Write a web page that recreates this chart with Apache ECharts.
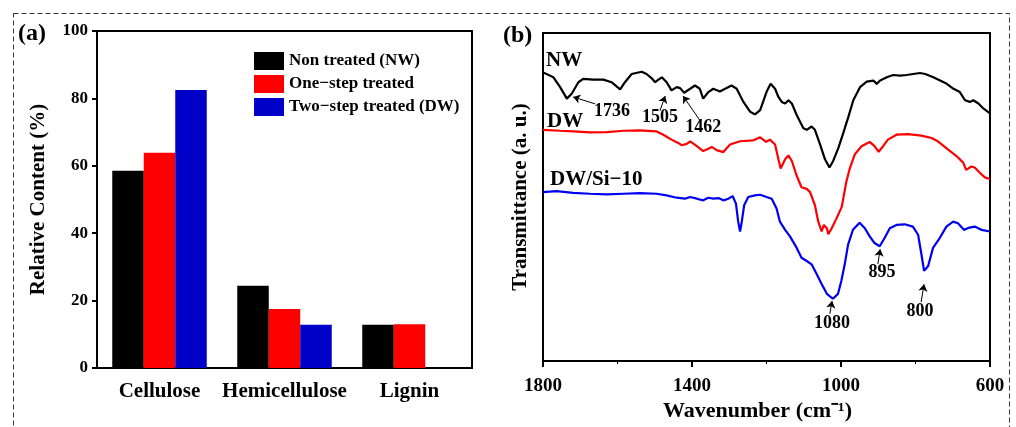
<!DOCTYPE html>
<html>
<head>
<meta charset="utf-8">
<script src="https://cdn.jsdelivr.net/npm/echarts@6/dist/echarts.min.js"></script>
<style>
  html, body { margin: 0; padding: 0; background: #fff; }
  #charts { width: 1016px; height: 427px; }
</style>
</head>
<body>
<div id="charts"></div>
<script>
// (a) relative content of the three components
var categories = ['Cellulose', 'Hemicellulose', 'Lignin'];
var nonTreated = [58.5, 24.4, 12.8];
var oneStep = [63.9, 17.5, 13.0];
var twoStep = [82.5, 12.8, null];
var barNames = ['Non treated (NW)', 'One\u2212step treated', 'Two\u2212step treated (DW)'];

// (b) FTIR spectra, [wavenumber, transmittance a.u.]
var nwSpectrum = [[1800,88],[1772,86.5],[1754,83.5],[1736,80],[1723,81.5],[1705,85],[1692,86],[1665,85.8],[1638,85.8],[1616,85],[1593,82.8],[1580,85],[1562,87.5],[1535,88.2],[1522,87.5],[1508,86.2],[1499,85],[1490,85.8],[1481,86.5],[1468,85],[1455,82.5],[1441,83.5],[1432,83.2],[1421,81.8],[1405,83],[1392,84],[1379,83],[1370,80],[1356,82],[1343,83],[1325,82.2],[1311,83],[1294,84],[1280,83],[1262,79],[1244,76],[1231,75.2],[1217,76.5],[1200,82],[1189,84.5],[1177,83],[1168,80.5],[1159,79],[1150,78.5],[1141,79.5],[1132,78.5],[1119,75],[1101,71],[1092,70.5],[1079,71.5],[1070,70.5],[1056,66],[1043,61.5],[1031,59],[1021,61],[1007,65],[994,69.5],[980,74.5],[967,79.5],[949,83.5],[931,85.2],[913,85.5],[904,84.5],[895,85.5],[877,86.5],[860,87.2],[842,87],[824,87.2],[806,87.5],[788,87.8],[774,87.5],[752,86.5],[734,85.5],[716,84.5],[698,83],[681,82],[667,79.5],[654,79],[645,79.5],[631,78.5],[618,77],[600,75.5]];
var dwSpectrum = [[1800,70.5],[1754,70.2],[1719,70],[1674,69.7],[1629,69.8],[1584,70.2],[1540,70.3],[1495,70],[1477,69],[1455,67.5],[1437,66.5],[1428,65.8],[1414,66.2],[1405,67],[1387,65.5],[1370,64],[1356,64.7],[1347,65.3],[1334,64.3],[1316,63.7],[1298,66],[1271,67],[1235,67.3],[1217,68.2],[1201,66.8],[1191,67.5],[1177,66],[1168,61.5],[1162,58.7],[1150,61.5],[1141,62.7],[1132,61],[1119,56.5],[1106,53],[1092,52.5],[1083,51.5],[1070,47.5],[1061,42.5],[1052,39.5],[1046,41.5],[1038,40.5],[1034,38.7],[1025,40.5],[1012,43.5],[998,47],[986,54.5],[977,58.5],[963,63],[945,65.5],[923,66.8],[910,65.5],[899,63.8],[887,65.5],[874,67.5],[851,69],[820,69.2],[784,68.7],[757,68],[740,67],[713,64.5],[690,62.5],[672,60.5],[664,58.3],[650,59.3],[641,59],[628,57.5],[614,56],[600,55.5]];
var dwSiSpectrum = [[1800,51.5],[1764,51.8],[1719,51.3],[1674,51],[1629,50.8],[1584,51],[1540,51.2],[1495,51],[1468,50.5],[1441,49.8],[1419,49.5],[1405,50],[1387,49.5],[1370,49],[1356,49.8],[1343,49.5],[1329,49.7],[1316,49],[1302,49.5],[1291,50.3],[1282,48],[1276,42.5],[1271,39.5],[1267,42],[1260,47.5],[1249,50],[1231,50.5],[1217,50.7],[1200,50],[1186,49.5],[1173,46.5],[1164,42.5],[1150,40],[1137,38],[1119,34.5],[1106,31.5],[1092,30.5],[1079,29.5],[1065,26.5],[1052,23.5],[1038,20.5],[1022,19],[1008,20.5],[999,24.5],[990,29.5],[981,35.5],[968,40],[950,42.2],[936,40.5],[923,38],[910,36],[896,35],[883,37.5],[869,40.5],[851,41.5],[829,41.7],[807,41],[793,38.5],[784,32.5],[777,27.5],[766,29],[753,34.5],[735,37.5],[717,41],[699,42.5],[686,42],[670,40],[655,40.7],[641,41],[623,40],[600,39.5]];
var curveNames = ['NW', 'DW', 'DW/Si\u221210'];

// peak labels: text, arrow tail, arrow head, text centre (data coords)
var peakNotes = [
  { text: '1736', from: [1660, 78.4], to: [1719, 80.5], at: [1615, 76] },
  { text: '1505', from: [1486, 76.3], to: [1472, 80.8], at: [1486, 74.3] },
  { text: '1462', from: [1379, 73.4], to: [1424, 80.8], at: [1370, 71.3] },
  { text: '895', from: [901, 29.6], to: [895, 34.1], at: [890, 26.9] },
  { text: '800', from: [785, 18], to: [777, 23.4], at: [788, 15.3] },
  { text: '1080', from: [1030, 14.4], to: [1024, 18.3], at: [1024, 11.4] }
];

var serif = '"Liberation Serif", "Times New Roman", serif';
var bold = function (size) {
  return { fontFamily: serif, fontWeight: 'bold', fontSize: size, color: '#000' };
};
var axisBlack = { lineStyle: { color: '#000', width: 2 } };

function bar(name, data, color) {
  return {
    type: 'bar', name: name, data: data,
    xAxisIndex: 0, yAxisIndex: 0,
    barWidth: 31.5, barGap: '0%',
    itemStyle: { color: color }
  };
}

function spectrum(name, data, color, labelAt) {
  return {
    type: 'line', name: name, data: data,
    xAxisIndex: 1, yAxisIndex: 1,
    showSymbol: false, silent: true,
    lineStyle: { color: color, width: 2.2 },
    markPoint: {
      symbol: 'circle', symbolSize: 0, silent: true,
      label: Object.assign({ show: true, position: 'right', distance: 0, formatter: name }, bold(21)),
      data: [{ coord: labelAt }]
    }
  };
}

var myChart = echarts.init(document.getElementById('charts'));
var option = {
  animation: false,
  backgroundColor: '#fff',
  grid: [
    { left: 97, top: 31, width: 375, height: 337, show: true, borderColor: '#000', borderWidth: 2 },
    { left: 543, top: 33, width: 447, height: 333, show: true, borderColor: '#000', borderWidth: 2 }
  ],
  legend: {
    data: barNames,
    orient: 'vertical', left: 254, top: 52,
    itemWidth: 30, itemHeight: 18, itemGap: 5, padding: 0,
    icon: 'rect', selectedMode: false,
    textStyle: bold(17)
  },
  xAxis: [
    {
      type: 'category', gridIndex: 0, data: categories,
      axisLine: axisBlack, axisTick: { show: false },
      axisLabel: Object.assign({ margin: 13, interval: 0 }, bold(21))
    },
    {
      type: 'value', gridIndex: 1, min: 600, max: 1800, interval: 400, inverse: true,
      axisLine: axisBlack,
      axisTick: { length: 6, lineStyle: { color: '#000', width: 2 } },
      minorTick: { show: true, splitNumber: 2, length: 3, lineStyle: { color: '#000', width: 1 } },
      splitLine: { show: false },
      axisLabel: Object.assign({ margin: 15, formatter: function (v) { return String(v); } }, bold(19)),
      name: 'Wavenumber (cm\u207B\u00B9)', nameLocation: 'middle', nameGap: 36,
      nameTextStyle: Object.assign({ padding: [0, 18, 0, 0] }, bold(22))
    }
  ],
  yAxis: [
    {
      type: 'value', gridIndex: 0, min: 0, max: 100, interval: 20,
      axisLine: { show: true, lineStyle: { color: '#000', width: 2 } },
      axisTick: { show: true, length: 5, lineStyle: { color: '#000', width: 2 } },
      splitLine: { show: false },
      axisLabel: Object.assign({ margin: 9 }, bold(17)),
      name: 'Relative Content (%)', nameLocation: 'middle', nameGap: 48,
      nameTextStyle: bold(21)
    },
    {
      type: 'value', gridIndex: 1, min: 0, max: 100,
      axisLine: { show: true, lineStyle: { color: '#000', width: 2 } },
      axisTick: { show: false }, axisLabel: { show: false },
      splitLine: { show: false },
      name: 'Transmittance (a. u.)', nameLocation: 'middle', nameGap: 12,
      nameTextStyle: bold(21)
    }
  ],
  series: [
    bar(barNames[0], nonTreated, '#000000'),
    bar(barNames[1], oneStep, '#ff0000'),
    bar(barNames[2], twoStep, '#0000c8'),
    spectrum(curveNames[0], nwSpectrum, '#000000', [1792, 91.6]),
    spectrum(curveNames[1], dwSpectrum, '#ff0000', [1789, 73]),
    spectrum(curveNames[2], dwSiSpectrum, '#0000f0', [1781, 55.4]),
    {
      type: 'scatter', name: 'peaks', data: [], xAxisIndex: 1, yAxisIndex: 1, silent: true,
      markLine: {
        silent: true, symbol: ['none', 'arrow'], symbolSize: 7,
        lineStyle: { color: '#000', width: 1, type: 'solid' },
        label: { show: false },
        data: peakNotes.map(function (p) { return [{ coord: p.from }, { coord: p.to }]; })
      },
      markPoint: {
        symbol: 'circle', symbolSize: 0, silent: true,
        label: Object.assign({ show: true, position: 'inside', formatter: '{b}' }, bold(18)),
        data: peakNotes.map(function (p) { return { name: p.text, coord: p.at }; })
      }
    }
  ],
  graphic: [
    {
      type: 'rect', silent: true,
      shape: { x: 13.5, y: 13.5, width: 996, height: 430 },
      style: { fill: 'none', stroke: '#333', lineWidth: 1, lineDash: [5, 3] }
    },
    { type: 'text', left: 18, top: 22, style: { text: '(a)', font: 'bold 24px ' + serif, fill: '#000' } },
    { type: 'text', left: 503, top: 24, style: { text: '(b)', font: 'bold 24px ' + serif, fill: '#000' } }
  ]
};
myChart.setOption(option);
</script>
</body>
</html>
